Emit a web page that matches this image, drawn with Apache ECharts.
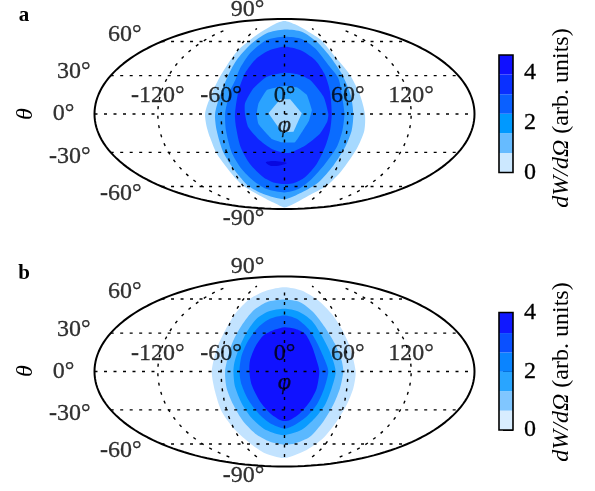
<!DOCTYPE html>
<html><head><meta charset="utf-8">
<style>html,body{margin:0;padding:0;background:#fff}#c{width:595px;height:491px}</style>
<script src="https://cdn.jsdelivr.net/npm/echarts@6/dist/echarts.min.js"></script>
</head><body><div id="c"></div>
<script>
// Contours in the Mollweide plane: x = longitude-scale degrees along the equator, y = percent of semi-height
const levelColorsA = ['#a6d9ff','#329fff','#0a6cff','#0f25ff','#0a6cff','#2ba3ff','#a6d9ff','#0808e0'];
const levelColorsB = ['#c2e3ff','#5ab8ff','#0a9bff','#0a62ff','#1012ff'];
const contourA1 = [[0,98],[-9,94.8],[-26.4,83.2],[-45.3,65.6],[-60.2,41.1],[-67.4,25.3],[-73,10],[-75.3,0],[-74,-12],[-70.6,-24.6],[-64,-42],[-48.5,-64.9],[-39,-75.5],[-23.2,-86],[-9,-94],[0,-98.3],[8.4,-94.8],[22.6,-86],[39.9,-75.5],[54.1,-59.7],[68.3,-36.9],[75.6,-17.6],[76.2,0],[71.5,20],[62,41.1],[47.8,60.4],[34.6,77.9],[22.6,86.7],[10,94.4]];
const contourA2 = [[0,89],[-16.9,85],[-32.7,72.7],[-45.3,56.9],[-53.2,41.1],[-61,20],[-65.8,0],[-64.2,-17.6],[-57.9,-40.4],[-46.9,-59.7],[-34.3,-75.5],[-20,-84.2],[0,-89.5],[16.3,-82.5],[32,-72],[46.2,-54.4],[57.3,-35.1],[63.6,-17.6],[65.2,0],[62.7,20],[54.8,41.1],[43.1,60.4],[30.5,76.2],[16.3,86.7]];
const contourA3 = [[0,81.4],[-16.9,77.9],[-32.7,63.9],[-42.1,48.1],[-46.5,36],[-51.6,23.9],[-54.5,11],[-56.3,0],[-55.4,-17.6],[-50,-40.4],[-40.6,-57.9],[-29.5,-70.2],[-16.9,-79],[0,-82.5],[13.1,-79],[25.7,-68.4],[38.3,-52.7],[49.4,-35.1],[54.8,-17.6],[56.7,0],[54.8,16.5],[51,37.6],[41.5,51.6],[28.9,69.1],[16.3,79]];
const contourA4 = [[0,70.9],[-13.7,67.4],[-26.4,58.6],[-37.4,42.8],[-43.7,23.5],[-46.9,0],[-45.9,-14],[-41.5,-35.1],[-32.7,-52.7],[-20,-66.7],[-10.6,-72],[0,-73.7],[8.4,-73],[19.4,-66.7],[30.5,-52.7],[38.3,-35.1],[43.1,-17.6],[44.7,0],[43.1,23.5],[38.4,41.1],[28.9,56.9],[14.7,67.4]];
const contourA5 = [[0,43.5],[-16.7,39.3],[-29.4,27],[-37.4,11.2],[-37.4,0],[-34.3,-14],[-23.2,-28],[-12,-36.9],[0,-41],[6.2,-40.4],[19.4,-33.3],[33.8,-20.4],[40.5,-8],[41.5,0],[36.9,18.3],[24.3,35.8],[11.7,42.1]];
const contourA6 = [[0,29.5],[-16.7,25.3],[-24.6,11.2],[-26.4,0],[-24.7,-10.5],[-12,-26.3],[-2.7,-29.8],[9.9,-29.8],[16.3,-19.3],[23.2,-7],[25.9,4.2],[21.2,20],[11.7,28.1]];
const contourA7 = [[-4.1,15.4],[5.4,15.4],[16.4,0.7],[8.5,-18.6],[-2.5,-19.3],[-15.2,0.7]];
const contourA8 = [[-17.7,-50.9],[-10.4,-49.5],[2.2,-51.6],[-5.7,-54.4],[-13.6,-54.4]];
const contourB1 = [[0,88.8],[-16.9,85.3],[-32.7,76.5],[-46.7,60.7],[-56.2,43.2],[-64.2,23.9],[-68.9,0],[-65.8,-21],[-59.5,-42],[-46.9,-61.4],[-32.7,-75.5],[-18.5,-86],[0,-91],[21,-82.5],[36.8,-70],[49.4,-52.6],[58.9,-35],[65.2,-17.5],[67.4,0],[62,25.6],[54.1,44.9],[44.7,60.7],[32,74.8],[16.3,85.3]];
const contourB2 = [[0,75.8],[-16.9,73],[-29.5,64.2],[-40.6,48.4],[-48.5,32.6],[-53.2,16.8],[-56.3,0],[-54.8,-17.5],[-48.5,-35],[-39,-52.6],[-26.2,-66.7],[-13.7,-74],[0,-77],[9.9,-75.8],[24.1,-68.8],[36.8,-52.6],[46.2,-35],[52.6,-17.5],[55.7,0],[54.1,11.6],[47.8,29.1],[38.3,46.7],[27.3,62.5],[14.7,73]];
const contourB3 = [[0,66],[-15.3,63.2],[-26.4,55.5],[-35.8,41.4],[-42.7,25.6],[-47.4,9.8],[-48.4,0],[-46.9,-15.8],[-40.6,-33.3],[-31.1,-49],[-20,-60],[-9,-65.3],[0,-67],[16.3,-61.4],[28.9,-49],[38.4,-35],[44.7,-17.5],[48.5,0],[43.1,20.4],[35.2,37.9],[25.7,53.7],[13.1,63.2]];
const contourB4 = [[0,59],[-13.7,55.5],[-24.8,46.7],[-34.3,32.6],[-40.6,16.8],[-42.7,0],[-40.6,-14],[-34.3,-29.8],[-24.8,-43.9],[-13.7,-54.4],[0,-60],[10,-56],[21,-47.4],[30.5,-35],[37.7,-17.5],[41.5,0],[38.4,11.6],[30.5,30.9],[22.6,44.9],[11.5,55.5]];
const contourB5 = [[0,46.7],[-9,44.2],[-20,37.9],[-27.9,25.6],[-32.7,11.6],[-33.3,0],[-31.1,-14],[-23.2,-31.6],[-13.7,-43.9],[-4.3,-51],[0,-52],[5.2,-51],[14.7,-43.9],[24.1,-31.6],[30.5,-17.5],[33,0],[30.5,11.6],[25.7,27.4],[19.4,39.7],[10,44.9]];
const lonTicks = [-120,-60,0,60,120];
const latTicks = [90,60,30,0,-30,-60,-90];
const gridParallels = [60,30,0,-30,-60];
const gridMeridians = [-120,-60,0,60,120];
const cbBandsA = [0.78,0.79,0.78,0.78,0.79,0.78];
const cbBandsB = [0.66,0.66,0.66,0.66,0.66,0.7];
const cbColorsA = ['#cce8ff','#66bbff','#0099ff','#0a60ff','#0a30ff','#1010ff'];
const cbColorsB = ['#d8edff','#80c6ff','#29a5ff','#0a84ff','#0a50ff','#1018ff'];
const cbTicks = [0,2,4];

const FONT = '"Liberation Serif","Times New Roman",serif';
function auxSin(lat){ // Mollweide: sine of the auxiliary angle for a latitude
  if(Math.abs(lat)===90) return Math.sign(lat);
  const p=lat*Math.PI/180; let a=p;
  for(let i=0;i<30;i++){a-=(2*a+Math.sin(2*a)-Math.PI*Math.sin(p))/(2+2*Math.cos(2*a));}
  return Math.sin(a);
}
function polygon(points,color,ax,z,smooth){
  return {type:'custom',xAxisIndex:ax,yAxisIndex:ax,data:points,z:z,silent:true,
    coordinateSystem:'cartesian2d',encode:{x:0,y:1},clip:false,
    renderItem(params,api){
      if(params.dataIndex!==0) return null;
      return {type:'polygon',shape:{points:points.map(p=>api.coord(p)),smooth:smooth},style:{fill:color}};
    }};
}
function lineS(pts,ax,style,z){
  return {type:'line',xAxisIndex:ax,yAxisIndex:ax,data:pts,showSymbol:false,silent:true,clip:false,z:z,lineStyle:style,animation:false};
}
function mapPanel(ax,contours,colors,smooths){
  const out=contours.map((c,i)=>polygon(c,colors[i],ax,2+i*0.01,smooths[i]));
  const dot={color:'#000',width:1.4,type:[3,6.5]};
  gridParallels.forEach(l=>{const f=auxSin(l),h=Math.sqrt(1-f*f)*180;out.push(lineS([[-h,f*100],[h,f*100]],ax,dot,5));});
  gridMeridians.forEach(m=>{const pts=[];for(let f=-90;f<=90;f+=3){pts.push([m*Math.sqrt(1-f*f/10000),f]);}out.push(lineS(pts,ax,dot,5));});
  const ell=[];for(let t=0;t<=360;t+=2){const r=t*Math.PI/180;ell.push([180*Math.cos(r),100*Math.sin(r)]);}
  out.push(lineS(ell,ax,{color:'#000',width:2},6));
  const lab={color:'#000',fontFamily:FONT,fontSize:24,textBorderColor:'#000',textBorderWidth:0.3};
  out.push({type:'scatter',xAxisIndex:ax,yAxisIndex:ax,symbolSize:0,silent:true,z:7,clip:false,
    label:{show:true,position:'inside',...lab,formatter:p=>p.data[2]},
    data:lonTicks.map(l=>[l,19,l+'°'])});
  out.push({type:'scatter',xAxisIndex:ax,yAxisIndex:ax,symbolSize:0,silent:true,z:7,clip:false,
    label:{show:true,position:'left',distance:0,...lab,formatter:p=>p.data[2]},
    data:latTicks.map(l=>{const f=auxSin(l);return [-Math.sqrt(1-f*f)*180-19,f*110,l+'°'];})});
  out.push({type:'scatter',xAxisIndex:ax,yAxisIndex:ax,symbolSize:0,silent:true,z:7,clip:false,
    label:{show:true,position:'inside',...lab,fontStyle:'italic',formatter:'φ'},
    data:[[0,-12]]});
  return out;
}
function colorbar(ax,bands,colors){
  const out=bands.map((b,i)=>({type:'bar',xAxisIndex:ax,yAxisIndex:ax,stack:'cb'+ax,barWidth:'100%',data:[b],
    itemStyle:{color:colors[i]},silent:true,z:2,animation:false}));
  out.push({type:'custom',xAxisIndex:ax,yAxisIndex:ax,data:[0],z:8,silent:true,
    renderItem(params){const c=params.coordSys;return {type:'rect',shape:{x:c.x,y:c.y,width:c.width,height:c.height},style:{fill:'none',stroke:'#000',lineWidth:1.6}};}});
  return out;
}
const gridsMap=[{left:94.5,top:19,width:380,height:190},{left:94.5,top:276.5,width:380,height:190}];
const gridsCb=[{left:499,top:55,width:14,height:117.5},{left:499,top:312.5,width:14,height:117.5}];
const xAxes=[],yAxes=[];
gridsMap.forEach((g,i)=>{xAxes.push({type:'value',gridIndex:i,min:-180,max:180,show:false});yAxes.push({type:'value',gridIndex:i,min:-100,max:100,show:false});});
[4.7,4].forEach((mx,i)=>{
  xAxes.push({type:'category',gridIndex:i+2,data:['cb'],show:false});
  yAxes.push({type:'value',gridIndex:i+2,min:0,max:mx,position:'right',
    axisLine:{show:false},splitLine:{show:false},
    axisTick:{show:true,inside:true,length:10,customValues:cbTicks,lineStyle:{color:'#000',width:1}},
    axisLabel:{show:true,margin:11,color:'#000',fontFamily:FONT,fontSize:24,textBorderColor:'#000',textBorderWidth:0.3,customValues:cbTicks,showMaxLabel:true,showMinLabel:true}});
});
const series=[
  ...mapPanel(0,[contourA1,contourA2,contourA3,contourA4,contourA5,contourA6,contourA7,contourA8],levelColorsA,[0.25,0.25,0.25,0.25,0.2,0.1,0,0.3]),
  ...mapPanel(1,[contourB1,contourB2,contourB3,contourB4,contourB5],levelColorsB,[0.25,0.25,0.25,0.25,0.25]),
  ...colorbar(2,cbBandsA,cbColorsA),
  ...colorbar(3,cbBandsB,cbColorsB)
];
function rotText(x,y,text){
  return {type:'text',x:x,y:y,rotation:Math.PI/2,z:20,silent:true,
    style:{text:text,fill:'#000',font:'24px '+FONT,textAlign:'center',textVerticalAlign:'middle',
      rich:{i:{fontStyle:'italic',fontFamily:FONT,fontSize:24,fill:'#000'},r:{fontFamily:FONT,fontSize:24,fill:'#000'}}}};
}
const graphic=[
  {type:'text',x:24,y:16,z:20,silent:true,style:{text:'a',fill:'#000',font:'bold 21px '+FONT,textAlign:'center',textVerticalAlign:'middle'}},
  {type:'text',x:24,y:274,z:20,silent:true,style:{text:'b',fill:'#000',font:'bold 21px '+FONT,textAlign:'center',textVerticalAlign:'middle'}},
  rotText(26,114,'{i|θ}'),
  rotText(26,371,'{i|θ}'),
  rotText(562,118,'{i|dW/dΩ}{r| (arb. units)}'),
  rotText(562,372,'{i|dW/dΩ}{r| (arb. units)}')
];
const chart=echarts.init(document.getElementById('c'),null,{renderer:'canvas'});
chart.setOption({animation:false,backgroundColor:'#fff',grid:[...gridsMap,...gridsCb],xAxis:xAxes,yAxis:yAxes,series:series,graphic:graphic,tooltip:{show:false}});
</script></body></html>
